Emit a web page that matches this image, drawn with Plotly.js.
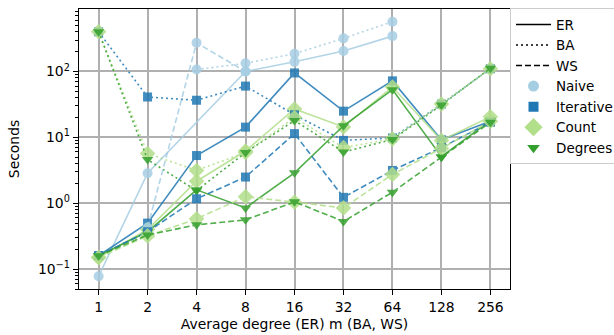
<!DOCTYPE html>
<html>
<head>
<meta charset="utf-8">
<script src="https://cdn.plot.ly/plotly-3.0.1.min.js"></script>
<style>html,body{margin:0;padding:0;background:#fff;}#chart{width:614px;height:335px;}</style>
</head>
<body>
<div id="chart"></div>
<script>
// Categories (x values)
const degrees = [1, 2, 4, 8, 16, 32, 64, 128, 256];
const tickLabels = ["1", "2", "4", "8", "16", "32", "64", "128", "256"];

// ER (solid)
const erNaive     = [0.078, 2.86, null, 100, 140, 204, 344, null, null];
const erIterative = [0.16, 0.50, 5.3, 14.3, 95, 25, 72, 9.2, 17.5];
const erCount     = [0.15, 0.40, 2.16, 6.2, 27, 14.4, 58, 9.0, 20.5];
const erDegrees   = [0.16, 0.37, 1.6, 0.85, 2.9, 15, 53, 5.1, 18];

// BA (dotted)
const baNaive     = [null, null, 107, 133, 186, 318, 569, null, null];
const baIterative = [400, 41, 36.6, 60, 22, 9.0, 9.8, 32, 110];
const baCount     = [400, 5.7, 3.15, 5.9, 20, 7.0, 9.5, 32, 110];
const baDegrees   = [400, 4.6, 1.55, 5.9, 18, 6.0, 9.3, 31, 112];

// WS (dashed)
const wsNaive     = [null, 0.43, 272, 100, null, null, null, null, null];
const wsIterative = [0.16, 0.37, 1.17, 2.5, 11.4, 1.23, 3.15, 7.0, 17];
const wsCount     = [0.15, 0.32, 0.58, 1.26, 1.04, 0.85, 2.74, 6.8, 17.5];
const wsDegrees   = [0.16, 0.33, 0.47, 0.56, 1.05, 0.53, 1.47, 5.0, 17];

const methods = [
  {name: "Naive", color: "#a6cee3", symbol: "circle", size: 10, lsize: 11},
  {name: "Iterative", color: "#1f78b4", symbol: "square", size: 9, lsize: 10},
  {name: "Count", color: "#b2df8a", symbol: "diamond", size: 12, lsize: 14},
  {name: "Degrees", color: "#33a02c", symbol: "triangle-down", size: 10, lsize: 11}
];
const graphs = [
  {name: "ER", dash: "solid", data: [erNaive, erIterative, erCount, erDegrees]},
  {name: "BA", dash: "2px,3px", data: [baNaive, baIterative, baCount, baDegrees]},
  {name: "WS", dash: "6px,3px", data: [wsNaive, wsIterative, wsCount, wsDegrees]}
];

const traces = [];
graphs.forEach(g => {
  methods.forEach((m, i) => {
    traces.push({
      x: degrees, y: g.data[i], type: "scatter", mode: "lines+markers",
      connectgaps: true, showlegend: false, opacity: 0.85,
      line: {color: m.color, width: 1.6, dash: g.dash},
      marker: {color: m.color, symbol: m.symbol, size: m.size},
      hoverinfo: "skip"
    });
  });
});
// Legend entries
graphs.forEach(g => {
  traces.push({x: [null], y: [null], type: "scatter", mode: "lines", name: g.name,
    line: {color: "#000", width: 1.6, dash: g.dash}});
});
methods.forEach(m => {
  traces.push({x: [null], y: [null], type: "scatter", mode: "markers", name: m.name,
    marker: {color: m.color, symbol: m.symbol, size: m.lsize}});
});

const minorVals = [];
[0.01, 0.1, 1, 10, 100].forEach(d => { for (let k = 2; k <= 9; k++) minorVals.push(d * k); });

const L2 = Math.log10(2);
const layout = {
  width: 614, height: 335,
  margin: {l: 79, r: 104, t: 9, b: 46, autoexpand: false},
  paper_bgcolor: "#fff", plot_bgcolor: "#fff",
  font: {family: "DejaVu Sans", size: 13.9, color: "#000"},
  showlegend: true,
  legend: {x: 1.0, xanchor: "left", y: 1.003, yanchor: "top",
    bordercolor: "#cccccc", borderwidth: 1, bgcolor: "rgba(255,255,255,0.8)",
    font: {family: "DejaVu Sans", size: 13.5}, itemwidth: 35, tracegroupgap: 0},
  xaxis: {
    type: "log", range: [-0.4 * L2, 8.4 * L2],
    tickvals: degrees, ticktext: tickLabels,
    showgrid: true, gridcolor: "#b0b0b0", gridwidth: 2,
    showline: true, linecolor: "#000", linewidth: 1.3, mirror: true,
    ticks: "outside", ticklen: 5, tickcolor: "#000", zeroline: false,
    title: {text: "Average degree (ER) m (BA, WS)", font: {size: 13.9}, standoff: 5}
  },
  yaxis: {
    type: "log", range: [-1.301, 2.948],
    tickvals: [0.1, 1, 10, 100],
    ticktext: ["10<sup>−1</sup>", "10<sup>0</sup>", "10<sup>1</sup>", "10<sup>2</sup>"],
    showgrid: true, gridcolor: "#b0b0b0", gridwidth: 2,
    showline: true, linecolor: "#000", linewidth: 1.3, mirror: true,
    ticks: "outside", ticklen: 5, tickcolor: "#000", zeroline: false,
    minor: {tickvals: minorVals, ticks: "outside", ticklen: 3, tickcolor: "#000", showgrid: false},
    title: {text: "Seconds", font: {size: 13.9}, standoff: 15}
  }
};

Plotly.newPlot("chart", traces, layout, {staticPlot: true, displayModeBar: false});
</script>
</body>
</html>
